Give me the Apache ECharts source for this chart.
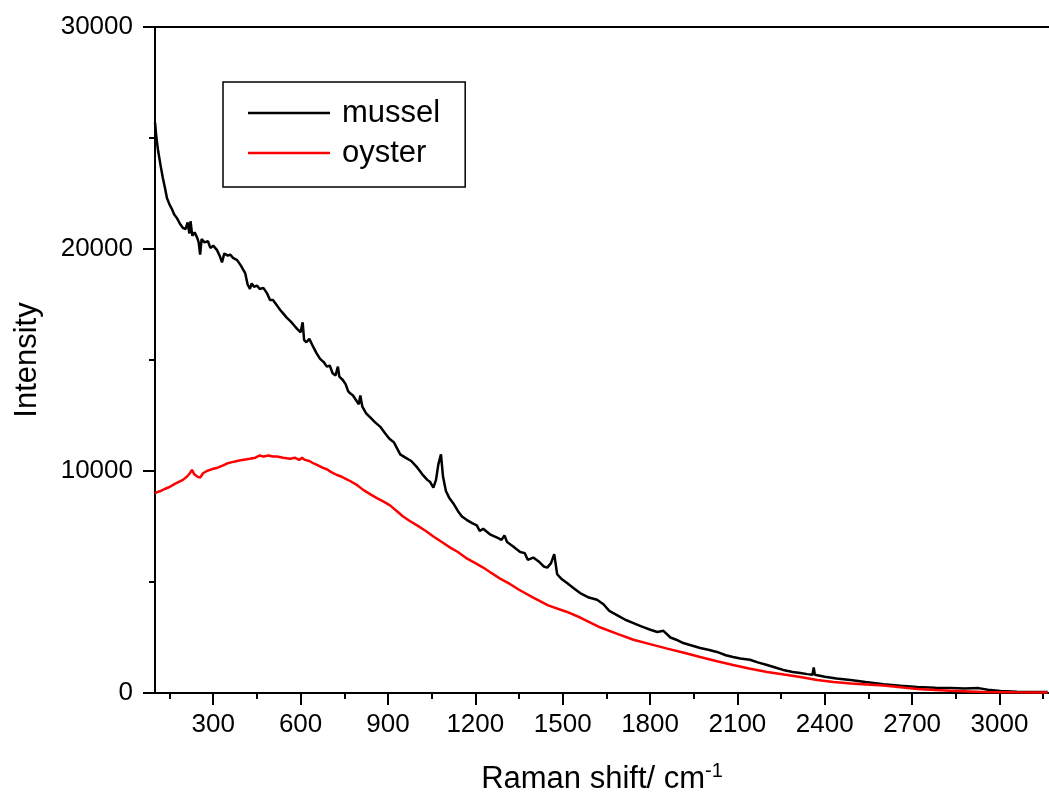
<!DOCTYPE html>
<html>
<head>
<meta charset="utf-8">
<script src="https://cdn.jsdelivr.net/npm/echarts@6/dist/echarts.min.js"></script>
<style>
html,body{margin:0;padding:0;background:#fff;}
#c{width:1049px;height:802px;}
</style>
</head>
<body>
<div id="c"></div>
<script>
const musselX = [100,105,111,120,127,135,141,150,158,166,175,185,196,205,212,218,222,228,236,245,250,255,260,270,282,290,300,313,322,330,338,350,358,368,382,395,410,418,426,432,440,450,460,472,485,495,505,519,530,540,553,565,575,588,600,607,612,620,630,643,655,667,680,690,700,710,720,728,733,745,755,763,770,780,790,800,805,812,825,840,855,873,890,905,920,942,960,980,1001,1018,1035,1045,1056,1065,1073,1082,1089,1099,1110,1124,1140,1154,1170,1189,1205,1215,1227,1250,1275,1290,1300,1309,1330,1354,1370,1380,1399,1420,1435,1447,1460,1471,1481,1495,1515,1540,1560,1590,1618,1640,1660,1688,1715,1743,1770,1801,1825,1846,1870,1890,1914,1940,1972,2000,2030,2060,2085,2110,2143,2170,2202,2230,2257,2290,2316,2340,2358,2362,2366,2400,2440,2488,2540,2602,2660,2718,2780,2832,2880,2928,2960,3003,3060,3110,3165];
const musselY = [25700,25000,24400,23700,23200,22700,22300,22000,21800,21550,21400,21150,20950,20900,21200,20700,21250,20600,20750,20500,20300,19750,20450,20300,20350,20050,20150,19950,19700,19400,19800,19700,19750,19600,19500,19250,18900,18400,18200,18450,18300,18350,18200,18250,18000,17700,17700,17450,17250,17100,16900,16750,16600,16400,16250,16700,15900,15800,15950,15600,15300,15050,14900,14700,14750,14400,14300,14700,14250,14100,13900,13600,13500,13400,13200,13000,13400,12900,12600,12400,12200,12000,11700,11450,11300,10750,10600,10450,10150,9850,9600,9500,9250,9600,10300,10750,9750,9100,8800,8550,8200,7950,7800,7650,7550,7300,7400,7150,7000,6900,7100,6800,6600,6350,6300,6000,6100,5900,5700,5650,5850,6250,5350,5150,4950,4700,4500,4300,4200,4000,3700,3500,3300,3150,3000,2850,2750,2800,2500,2400,2250,2150,2030,1950,1850,1700,1620,1550,1500,1380,1260,1150,1040,950,900,850,820,1150,820,730,650,590,500,400,330,270,240,220,200,220,150,90,60,50,40];
const oysterX = [100,107,120,135,150,165,180,196,210,220,227,235,245,255,265,278,289,300,315,334,350,365,382,400,426,445,460,472,490,505,519,540,564,580,595,605,615,630,643,660,675,690,705,725,740,755,770,790,815,840,862,885,907,930,952,975,1000,1030,1056,1085,1114,1140,1172,1200,1227,1250,1285,1320,1350,1399,1450,1515,1560,1630,1690,1743,1800,1859,1920,1972,2030,2085,2140,2202,2260,2316,2374,2430,2490,2545,2602,2660,2718,2780,2830,2945,3050,3165];
const oysterY = [9000,9050,9100,9200,9280,9400,9500,9600,9750,9900,10050,9850,9750,9700,9900,10000,10050,10100,10150,10250,10350,10400,10450,10500,10550,10600,10700,10650,10700,10650,10650,10600,10550,10600,10500,10600,10500,10450,10350,10250,10150,10080,9950,9820,9750,9650,9550,9400,9150,8950,8780,8620,8450,8200,7950,7750,7550,7300,7050,6800,6550,6350,6050,5850,5650,5450,5150,4900,4650,4300,3950,3650,3400,2950,2650,2400,2200,2000,1800,1620,1430,1260,1100,950,830,720,590,500,430,380,340,260,180,130,100,45,30,20];
const xMajor = [300,600,900,1200,1500,1800,2100,2400,2700,3000];
const xMinor = [150,450,750,1050,1350,1650,1950,2250,2550,2850,3150];
const yMajor = [0,10000,20000,30000];
const yMinor = [5000,15000,25000];

const FONT = '"Liberation Sans", Arial, sans-serif';
const zip = (xs, ys) => xs.map((x, i) => [x, ys[i]]);
const plain = v => String(v);

const chart = echarts.init(document.getElementById('c'), null, {renderer: 'canvas'});
const axLine = {show: true, lineStyle: {color: '#000', width: 2}};
chart.setOption({
  animation: false,
  backgroundColor: '#fff',
  grid: {left: 155, right: 0, top: 27, bottom: 109, containLabel: false},
  legend: {
    left: 223, top: 82, orient: 'vertical',
    padding: [14, 25, 17, 25],
    borderColor: '#000', borderWidth: 1.5,
    icon: 'rect',
    itemWidth: 82, itemHeight: 2.5, itemGap: 6,
    textStyle: {fontFamily: FONT, fontSize: 31, color: '#000', lineHeight: 34, padding: [0, 0, 0, 7]},
    data: ['mussel', 'oyster']
  },
  xAxis: [
    {
      type: 'value', min: 100, max: 3170, position: 'bottom',
      axisLine: axLine,
      axisTick: {show: true, inside: false, length: 12, customValues: xMajor, lineStyle: {color: '#000', width: 2}},
      axisLabel: {customValues: xMajor, formatter: plain, fontFamily: FONT, fontSize: 26, color: '#000', margin: 19},
      splitLine: {show: false},
      name: '{a|Raman shift/ cm}{b|-1}',
      nameLocation: 'middle', nameGap: 68,
      nameTextStyle: {
        rich: {
          a: {fontFamily: FONT, fontSize: 31, color: '#000', lineHeight: 36},
          b: {fontFamily: FONT, fontSize: 20, color: '#000', verticalAlign: 'top', lineHeight: 20}
        }
      }
    },
    {
      type: 'value', min: 100, max: 3170, position: 'bottom',
      axisLine: {show: false},
      axisTick: {show: true, inside: false, length: 6, customValues: xMinor, lineStyle: {color: '#000', width: 2}},
      axisLabel: {show: false},
      splitLine: {show: false}
    },
    {
      type: 'value', min: 100, max: 3170, position: 'top',
      axisLine: axLine, axisTick: {show: false}, axisLabel: {show: false}, splitLine: {show: false}
    }
  ],
  yAxis: [
    {
      type: 'value', min: 0, max: 30000, position: 'left',
      axisLine: axLine,
      axisTick: {show: true, inside: false, length: 12, customValues: yMajor, lineStyle: {color: '#000', width: 2}},
      axisLabel: {customValues: yMajor, formatter: plain, fontFamily: FONT, fontSize: 26, color: '#000', margin: 22},
      splitLine: {show: false},
      name: 'Intensity', nameLocation: 'middle', nameRotate: 90, nameGap: 112,
      nameTextStyle: {fontFamily: FONT, fontSize: 31, color: '#000'}
    },
    {
      type: 'value', min: 0, max: 30000, position: 'left',
      axisLine: {show: false},
      axisTick: {show: true, inside: false, length: 6, customValues: yMinor, lineStyle: {color: '#000', width: 2}},
      axisLabel: {show: false},
      splitLine: {show: false}
    }
  ],
  series: [
    {
      name: 'mussel', type: 'line', xAxisIndex: 0, yAxisIndex: 0,
      data: zip(musselX, musselY), symbol: 'none', smooth: false,
      lineStyle: {color: '#000', width: 2.5}, itemStyle: {color: '#000'}, z: 3
    },
    {
      name: 'oyster', type: 'line', xAxisIndex: 0, yAxisIndex: 0,
      data: zip(oysterX, oysterY), symbol: 'none', smooth: false,
      lineStyle: {color: '#ff0000', width: 2.5}, itemStyle: {color: '#ff0000'}, z: 4
    }
  ]
});
</script>
</body>
</html>
